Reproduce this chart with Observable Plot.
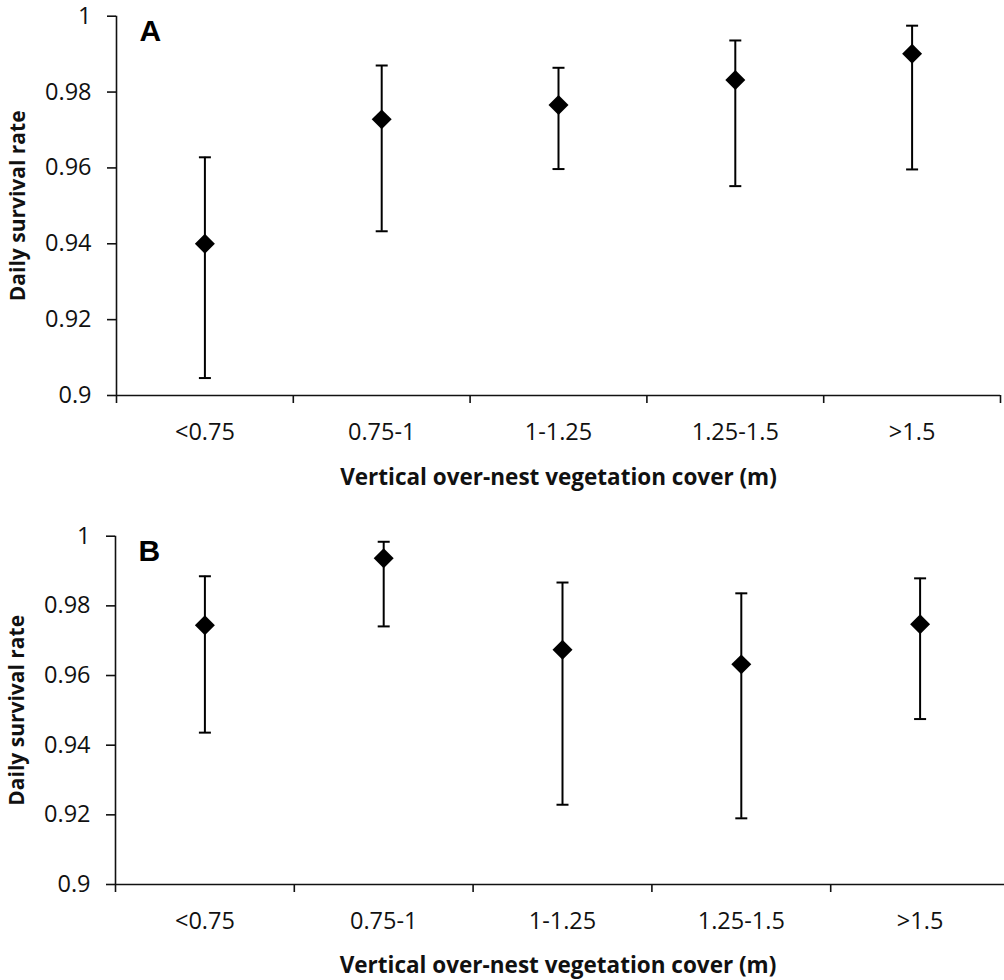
<!DOCTYPE html>
<html>
<head>
<meta charset="utf-8">
<script src="https://cdn.jsdelivr.net/npm/d3@7"></script>
<script src="https://cdn.jsdelivr.net/npm/@observablehq/plot@0.6"></script>
<style>
  html, body { margin: 0; padding: 0; background: white; }
  #chart svg { display: block; }
</style>
</head>
<body>
<div id="chart"></div>
<script>
const categories = ["<0.75", "0.75-1", "1-1.25", "1.25-1.5", ">1.5"];
const panelLetters = ["A", "B"];
const aEst = [0.9400, 0.9728, 0.9766, 0.9832, 0.9901];
const aLo  = [0.9046, 0.9433, 0.9597, 0.9552, 0.9596];
const aHi  = [0.9628, 0.9870, 0.9864, 0.9936, 0.9975];
const bEst = [0.9744, 0.9937, 0.9674, 0.9632, 0.9747];
const bLo  = [0.9436, 0.9741, 0.9229, 0.9190, 0.9475];
const bHi  = [0.9885, 0.9984, 0.9867, 0.9836, 0.9879];
const yTicks = [0.9, 0.92, 0.94, 0.96, 0.98, 1];
const yTickLabels = ["0.9", "0.92", "0.94", "0.96", "0.98", "1"];
const xLabel = "Vertical over-nest vegetation cover (m)";
const yLabel = "Daily survival rate";

const capSymbol = {
  draw(context, size) {
    const r = Math.sqrt(size / Math.PI);
    context.moveTo(-r, 0);
    context.lineTo(r, 0);
  }
};

function makePanel(letter, est, lo, hi, layout) {
  const rows = categories.map((c, i) => ({pos: i + 0.5, cat: c, est: est[i], lo: lo[i], hi: hi[i]}));
  const boundaries = d3.range(categories.length + 1);
  return Plot.plot({
    width: 1004,
    height: layout.height,
    marginTop: layout.marginTop,
    marginBottom: layout.marginBottom,
    marginLeft: layout.xRange[0],
    marginRight: 4,
    x: {domain: [0, categories.length], range: layout.xRange},
    y: {domain: [0.9, 1]},
    style: {fontFamily: "'Open Sans', sans-serif", color: "#111", background: "white", overflow: "hidden"},
    marks: [
      Plot.axisY({ticks: yTicks, tickFormat: d => yTickLabels[yTicks.indexOf(d)], tickSize: 9, tickPadding: 16, fontSize: 23.5, label: null, strokeWidth: 1.6}),
      Plot.axisX({ticks: boundaries, tickFormat: () => "", tickSize: 8, label: null, strokeWidth: 1.6}),
      Plot.axisX({ticks: rows.map(d => d.pos), tickFormat: d => categories[Math.floor(d)], tickSize: 0, tickPadding: 28, fontSize: 23.5, label: null}),
      Plot.ruleX([0], {y1: 0.9, y2: 1, strokeWidth: 1.6}),
      Plot.ruleY([0.9], {x1: 0, x2: categories.length, strokeWidth: 1.6}),
      Plot.ruleX(rows, {x: "pos", y1: "lo", y2: "hi", stroke: "black", strokeWidth: 2}),
      Plot.dot(rows, {x: "pos", y: "hi", symbol: capSymbol, r: 6, fill: "none", stroke: "black", strokeWidth: 2}),
      Plot.dot(rows, {x: "pos", y: "lo", symbol: capSymbol, r: 6, fill: "none", stroke: "black", strokeWidth: 2}),
      Plot.dot(rows, {x: "pos", y: "est", symbol: "diamond2", r: 9, fill: "black", stroke: "none"}),
      Plot.text([letter], {frameAnchor: "top-left", textAnchor: "start", lineAnchor: "top", dx: 23, dy: 3, fontSize: 30, fontWeight: "bold", fontFamily: "'Liberation Sans', Arial, sans-serif", fill: "black"}),
      Plot.text([xLabel], {frameAnchor: "bottom", lineAnchor: "middle", textAnchor: "middle", dy: layout.titleDy, fontSize: 22.5, fontWeight: "bold", fill: "#111"}),
      Plot.text([yLabel], {frameAnchor: "left", rotate: -90, textAnchor: "middle", lineAnchor: "middle", dx: -98, fontSize: 21, fontWeight: "bold", fill: "#111"})
    ]
  });
}

const chart = document.getElementById("chart");
chart.append(makePanel(panelLetters[0], aEst, aLo, aHi, {height: 500, marginTop: 15.7, marginBottom: 105, xRange: [116, 1000], titleDy: 82}));
chart.append(makePanel(panelLetters[1], bEst, bLo, bHi, {height: 480, marginTop: 35.7, marginBottom: 96, xRange: [115, 1009], titleDy: 81}));
</script>
</body>
</html>
